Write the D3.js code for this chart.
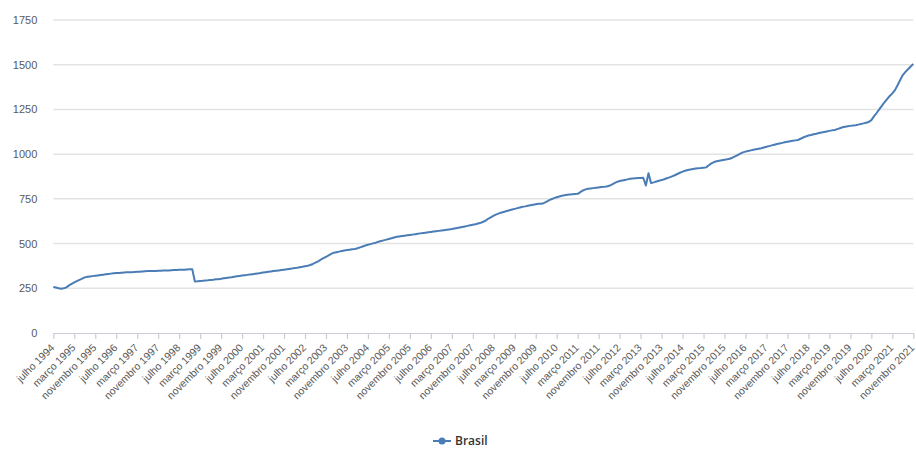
<!DOCTYPE html>
<html lang="pt">
<head>
<meta charset="utf-8">
<script src="https://cdn.jsdelivr.net/npm/d3@7"></script>
<style>
  html, body { margin: 0; padding: 0; background: #ffffff; }
  svg { display: block; font-family: "Open Sans", "Noto Sans", sans-serif; }
</style>
</head>
<body>
<svg id="chart" width="916" height="450"></svg>
<script>
// Monthly series, julho 1994 – novembro 2021
const monthNames = ["janeiro", "fevereiro", "março", "abril", "maio", "junho",
  "julho", "agosto", "setembro", "outubro", "novembro", "dezembro"];
const firstYear = 1994;
const firstMonth = 6; // julho

const valuesByYear = [
  /* 1994 (jul–dez) */ [258, 254, 250, 248, 250, 255],
  /* 1995 */ [266, 275, 283, 290, 297, 304, 311, 314, 316, 318, 320, 322],
  /* 1996 */ [324, 326, 328, 330, 332, 334, 335, 336, 337, 338, 339, 340],
  /* 1997 */ [340, 341, 342, 343, 344, 345, 346, 346, 347, 347, 348, 348],
  /* 1998 */ [349, 350, 350, 351, 352, 352, 353, 353, 354, 355, 356, 356],
  /* 1999 */ [288, 289, 291, 292, 294, 295, 297, 298, 300, 301, 303, 306],
  /* 2000 */ [308, 310, 312, 315, 317, 319, 321, 323, 325, 327, 329, 331],
  /* 2001 */ [333, 335, 338, 340, 342, 344, 346, 348, 350, 352, 354, 356],
  /* 2002 */ [358, 360, 363, 365, 368, 370, 373, 376, 380, 386, 393, 400],
  /* 2003 */ [410, 418, 426, 434, 442, 449, 452, 455, 458, 461, 464, 466],
  /* 2004 */ [468, 470, 474, 479, 484, 489, 493, 497, 501, 505, 510, 514],
  /* 2005 */ [518, 522, 526, 530, 534, 538, 540, 542, 544, 546, 548, 550],
  /* 2006 */ [552, 555, 557, 559, 561, 563, 565, 567, 569, 571, 573, 575],
  /* 2007 */ [577, 579, 581, 584, 587, 590, 593, 596, 599, 602, 605, 608],
  /* 2008 */ [612, 616, 622, 630, 640, 648, 656, 663, 669, 674, 678, 682],
  /* 2009 */ [686, 690, 694, 698, 702, 706, 708, 711, 714, 717, 720, 723],
  /* 2010 */ [723, 726, 733, 741, 748, 754, 759, 763, 767, 770, 773, 775],
  /* 2011 */ [776, 777, 778, 788, 797, 803, 806, 808, 810, 812, 814, 816],
  /* 2012 */ [817, 819, 823, 830, 838, 845, 850, 853, 856, 859, 862, 864],
  /* 2013 */ [865, 866, 867, 868, 825, 893, 838, 842, 847, 851, 855, 860],
  /* 2014 */ [865, 870, 876, 882, 889, 896, 902, 907, 911, 914, 917, 920],
  /* 2015 */ [921, 922, 924, 926, 938, 948, 956, 960, 963, 966, 969, 971],
  /* 2016 */ [974, 980, 987, 995, 1003, 1010, 1014, 1018, 1021, 1024, 1027, 1030],
  /* 2017 */ [1033, 1037, 1041, 1045, 1049, 1053, 1057, 1060, 1063, 1066, 1069, 1072],
  /* 2018 */ [1075, 1077, 1079, 1086, 1093, 1099, 1104, 1107, 1111, 1114, 1118, 1121],
  /* 2019 */ [1124, 1127, 1130, 1133, 1135, 1140, 1145, 1150, 1153, 1156, 1158, 1160],
  /* 2020 */ [1162, 1165, 1168, 1172, 1176, 1180, 1190, 1211, 1230, 1250, 1270, 1290],
  /* 2021 (jan–nov) */ [1308, 1325, 1340, 1358, 1385, 1415, 1442, 1460, 1475, 1490, 1504]
];

const yTicks = [0, 250, 500, 750, 1000, 1250, 1500, 1750];
const tickEvery = 8; // one axis label every eight months
const seriesName = "Brasil";

// Category labels ("julho 1994", ...) paired with the values
const data = [];
valuesByYear.forEach((row, yi) => {
  row.forEach((v, k) => {
    const m = (yi === 0 ? firstMonth : 0) + k;
    data.push({ label: monthNames[m] + " " + (firstYear + yi), value: v });
  });
});
const categories = data.map(d => d.label);

const svg = d3.select("#chart");
const margin = { left: 53.3, right: 2.7, top: 20, bottom: 117 };
const W = 916, H = 450;

const x = d3.scalePoint().domain(categories).range([margin.left, W - margin.right]);
const y = d3.scaleLinear().domain([0, 1750]).range([H - margin.bottom, margin.top]);

const textColor = "#595959";

// Horizontal gridlines
svg.append("g")
  .selectAll("line")
  .data(yTicks.filter(t => t > 0))
  .join("line")
  .attr("x1", margin.left)
  .attr("x2", W - margin.right)
  .attr("y1", d => y(d))
  .attr("y2", d => y(d))
  .attr("stroke", "#e3e3e3")
  .attr("stroke-width", 1.5);

// Y axis labels
const yAxis = svg.append("g")
  .attr("transform", `translate(${margin.left},0)`)
  .call(d3.axisLeft(y).tickValues(yTicks).tickFormat(d3.format("d")).tickSize(0).tickPadding(16));
yAxis.select(".domain").remove();
yAxis.selectAll("text")
  .attr("fill", textColor)
  .style("font-size", "11px");

// X axis with rotated month labels
const xAxis = svg.append("g")
  .attr("transform", `translate(0,${y(0)})`)
  .call(d3.axisBottom(x)
    .tickValues(categories.filter((c, i) => i % tickEvery === 0))
    .tickSize(6)
    .tickSizeOuter(0));
xAxis.select(".domain").attr("stroke", "#c9ceda").attr("stroke-width", 1.2);
xAxis.selectAll(".tick line").attr("stroke", "#c9ceda").attr("stroke-width", 1.2);
xAxis.selectAll("text")
  .attr("fill", textColor)
  .style("font-size", "10.5px")
  .attr("text-anchor", "end")
  .attr("dx", "0")
  .attr("dy", "0")
  .attr("transform", "translate(-5,9) rotate(-45)");

// Series line
const line = d3.line()
  .x(d => x(d.label))
  .y(d => y(d.value));

svg.append("path")
  .datum(data)
  .attr("fill", "none")
  .attr("stroke", "#4a7cb6")
  .attr("stroke-width", 2)
  .attr("stroke-linejoin", "round")
  .attr("d", line);

// Legend
const legend = svg.append("g").attr("transform", "translate(433,441)");
legend.append("line")
  .attr("x1", 0).attr("x2", 18)
  .attr("y1", 0).attr("y2", 0)
  .attr("stroke", "#4a7cb6").attr("stroke-width", 2);
legend.append("circle")
  .attr("cx", 9).attr("cy", 0).attr("r", 3.5)
  .attr("fill", "#4a7cb6");
legend.append("text")
  .attr("x", 22).attr("y", 0)
  .attr("dy", "0.35em")
  .attr("fill", "#333333")
  .style("font-size", "12px")
  .style("font-weight", "600")
  .text(seriesName);
</script>
</body>
</html>
